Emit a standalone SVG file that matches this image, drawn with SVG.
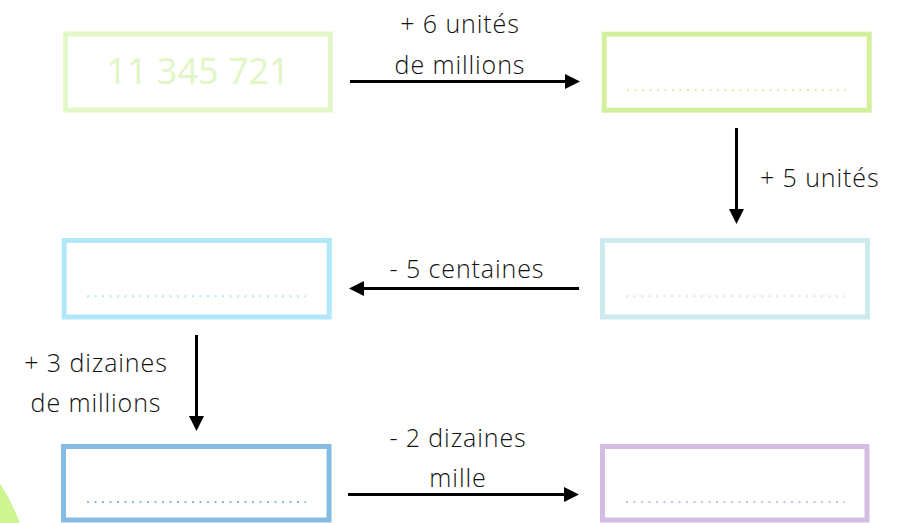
<svg xmlns="http://www.w3.org/2000/svg" width="908" height="523" viewBox="0 0 908 523">
<defs>
<style>
.box{fill:#fff;stroke-width:5}
.dots{stroke-width:2;stroke-dasharray:2 5.5;fill:none}
.lbl{font-family:"Open Sans","Liberation Sans",sans-serif;font-weight:300;font-size:25px;letter-spacing:0.9px;fill:#111}
.ln{stroke:#000;stroke-width:3;fill:none}
.hd{fill:#000}
</style>
</defs>
<rect width="908" height="523" fill="#fff"/>
<circle cx="-150" cy="583" r="180" fill="#cdf590"/>
<g id="n1">
<rect class="box" x="65.5" y="34" width="265" height="76" stroke="#e2f8c8"/>
<text x="198" y="84" text-anchor="middle" font-family="Open Sans, Liberation Sans, sans-serif" font-weight="400" font-size="36" fill="#e0f6c4">11 345 721</text>
</g>
<g id="n2">
<rect class="box" x="604.2" y="34.2" width="265" height="76" stroke="#d3f09c"/>
<line class="dots" x1="627" y1="90.3" x2="846" y2="90.3" stroke="#d3f09c"/>
</g>
<g id="n3">
<rect class="box" x="64.2" y="240.5" width="265" height="76.5" stroke="#b2e7f9"/>
<line class="dots" x1="87" y1="296.3" x2="306" y2="296.3" stroke="#b2e7f9"/>
</g>
<g id="n4">
<rect class="box" x="602.5" y="240.5" width="265" height="76.5" stroke="#cdebee"/>
<line class="dots" x1="626" y1="296.3" x2="845" y2="296.3" stroke="#cdebee"/>
</g>
<g id="n5">
<rect class="box" x="63.5" y="446.5" width="265.5" height="73.5" stroke="#86bce3"/>
<line class="dots" x1="87" y1="502" x2="306" y2="502" stroke="#86bce3"/>
</g>
<g id="n6">
<rect class="box" x="602.5" y="446.5" width="264.5" height="73.5" stroke="#d4bde2"/>
<line class="dots" x1="626" y1="502" x2="845" y2="502" stroke="#d4bde2"/>
</g>
<g id="connectors">
<line class="ln" x1="350" y1="81.5" x2="566" y2="81.5"/>
<polygon class="hd" points="580,81.5 565,74 565,89"/>
<line class="ln" x1="736.5" y1="128" x2="736.5" y2="210"/>
<polygon class="hd" points="736.5,224 729,209 744,209"/>
<line class="ln" x1="579" y1="288.5" x2="363" y2="288.5"/>
<polygon class="hd" points="349,288.5 364,281 364,296"/>
<line class="ln" x1="196.5" y1="335" x2="196.5" y2="417"/>
<polygon class="hd" points="196.5,431 189,416 204,416"/>
<line class="ln" x1="348" y1="494.5" x2="565" y2="494.5"/>
<polygon class="hd" points="579,494.5 564,487 564,502"/>
</g>
<g id="labels">
<text class="lbl" x="460" y="33" text-anchor="middle">+ 6 unités</text>
<text class="lbl" x="460" y="74" text-anchor="middle">de millions</text>
<text class="lbl" x="760" y="187">+ 5 unités</text>
<text class="lbl" x="467" y="278" text-anchor="middle">- 5 centaines</text>
<text class="lbl" x="96" y="372" text-anchor="middle">+ 3 dizaines</text>
<text class="lbl" x="96" y="412" text-anchor="middle">de millions</text>
<text class="lbl" x="458" y="447" text-anchor="middle">- 2 dizaines</text>
<text class="lbl" x="458" y="487" text-anchor="middle">mille</text>
</g>
</svg>
